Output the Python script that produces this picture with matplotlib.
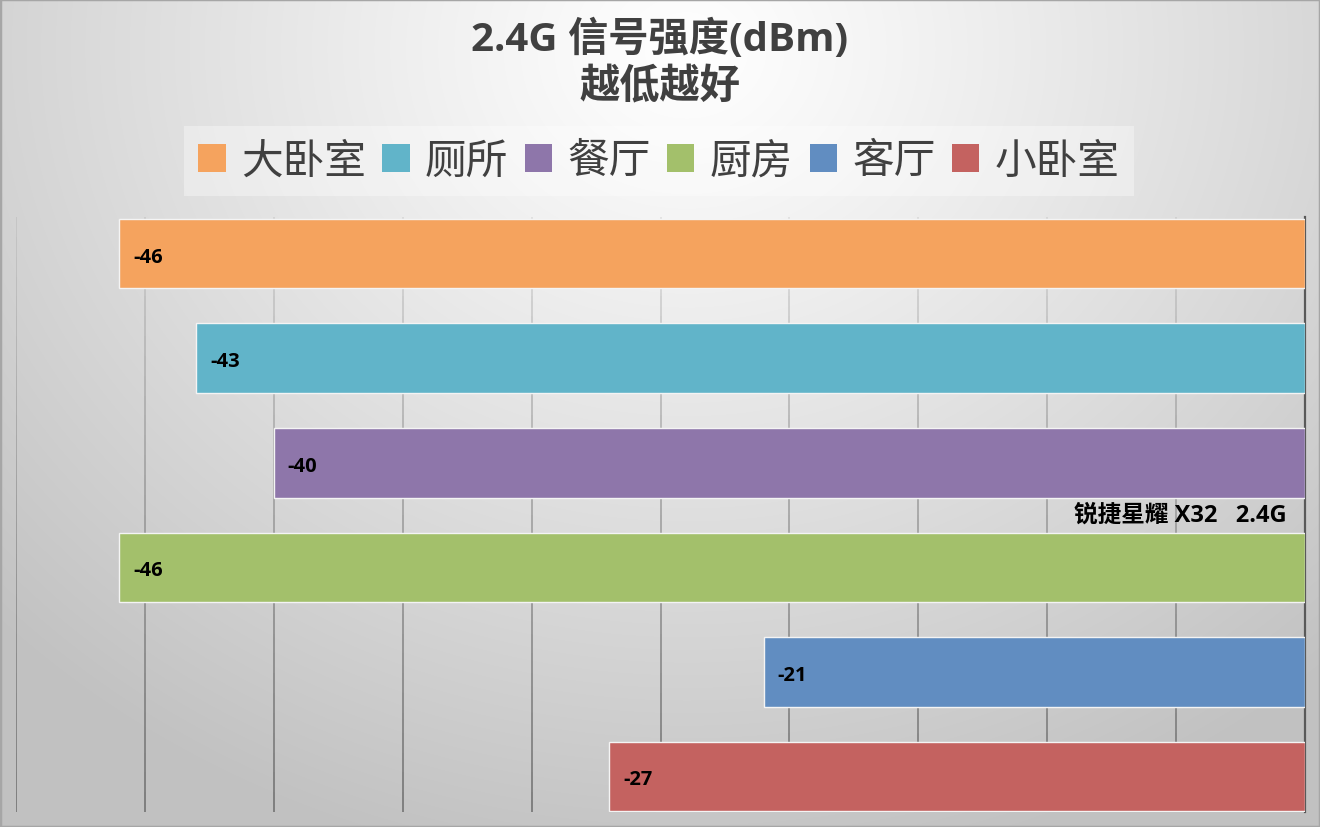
import numpy as np
import matplotlib
matplotlib.use('Agg')
import matplotlib.pyplot as plt
from matplotlib.patches import Patch, Rectangle
from matplotlib.collections import LineCollection

rooms = ['大卧室', '厕所', '餐厅', '厨房', '客厅', '小卧室']
signal = [-46, -43, -40, -46, -21, -27]
colors = ['#F5A35E', '#61B4C9', '#8E76AA', '#A3C06B', '#618DC1', '#C46260']
category = '锐捷星耀 X32   2.4G'
title1 = '2.4G 信号强度(dBm)'
title2 = '越低越好'

LATIN_CJK = ['Open Sans', 'Noto Sans CJK SC', 'DejaVu Sans']
CJK = ['Noto Sans CJK SC', 'DejaVu Sans']

W, H = 1320, 828
fig = plt.figure(figsize=(W / 100, H / 100), dpi=100)

# background gradient, white near the title, gray towards the edges
bg = fig.add_axes([0, 0, 1, 1], zorder=-10)
yy, xx = np.mgrid[0:H, 0:W]
d = np.sqrt(((xx - 0.52 * W) / (0.72 * W)) ** 2 + ((yy - 0.06 * H) / (1.0 * H)) ** 2)
d = np.clip(d, 0, 1)
shade = 1.0 - 0.24 * d ** 1.1
bg.imshow(np.dstack([shade, shade, shade]), aspect='auto', extent=[0, 1, 0, 1])
bg.add_patch(Rectangle((0, 0), 1, 1, transform=bg.transAxes, fill=False,
                       edgecolor='#a6a6a6', lw=2.5))
bg.axis('off')

ax = fig.add_axes([16 / W, 1 - 813 / H, (1305 - 16) / W, (813 - 218) / H])
ax.set_facecolor('none')

ypos = np.arange(len(rooms))
ax.barh(ypos, signal, height=0.665, color=colors, edgecolor='#f4f4f4',
        linewidth=1.0, zorder=3)

ax.set_xlim(-50, 0)
ax.set_ylim(5.34, -0.35)

# vertical gridlines that fade towards the top
ticks = np.arange(-50, 0, 5)
segs, cols = [], []
n = 30
edges = np.linspace(-0.35, 5.34, n + 1)
for t in ticks:
    for i in range(n):
        segs.append([(t, edges[i]), (t, edges[i + 1])])
        a = 0.15 + 0.75 * (i / (n - 1))
        cols.append((0.42, 0.42, 0.42, a))
ax.add_collection(LineCollection(segs, colors=cols, linewidths=1.2, zorder=1))

for s in ['top', 'bottom', 'left']:
    ax.spines[s].set_visible(False)
ax.spines['right'].set_color('#595959')
ax.spines['right'].set_linewidth(1.6)
ax.set_xticks([])
ax.set_yticks([])

for y, v in zip(ypos, signal):
    ax.annotate(str(v), xy=(v, y), xytext=(14, -3), textcoords='offset pixels',
                ha='left', va='center', fontsize=14.5, fontweight='bold',
                family=LATIN_CJK, color='black', zorder=5)

ax.annotate(category, xy=(0, 2.5), xytext=(-18, 0), textcoords='offset pixels',
            ha='right', va='center', fontsize=17, fontweight='bold',
            family=LATIN_CJK, color='black', zorder=5)

fig.text(0.5, 1 - 40 / H, title1, ha='center', va='center', fontsize=29,
         fontweight='bold', family=LATIN_CJK, color='#404040')
fig.text(0.5, 1 - 87 / H, title2, ha='center', va='center', fontsize=29,
         fontweight='bold', family=CJK, color='#404040')

handles = [Patch(facecolor=c, edgecolor='none') for c in colors]
leg = fig.legend(handles, rooms, loc='center', ncol=6,
                 bbox_to_anchor=(659 / W, 1 - 162 / H),
                 prop={'family': CJK, 'size': 30},
                 handlelength=0.65, handleheight=0.65, handletextpad=0.37,
                 columnspacing=0.4, borderpad=0.35, frameon=True, fancybox=False)
leg.get_frame().set_facecolor('white')
leg.get_frame().set_alpha(0.35)
leg.get_frame().set_edgecolor('none')
for txt in leg.get_texts():
    txt.set_color('#404040')

fig.savefig('out.png', dpi=100)
